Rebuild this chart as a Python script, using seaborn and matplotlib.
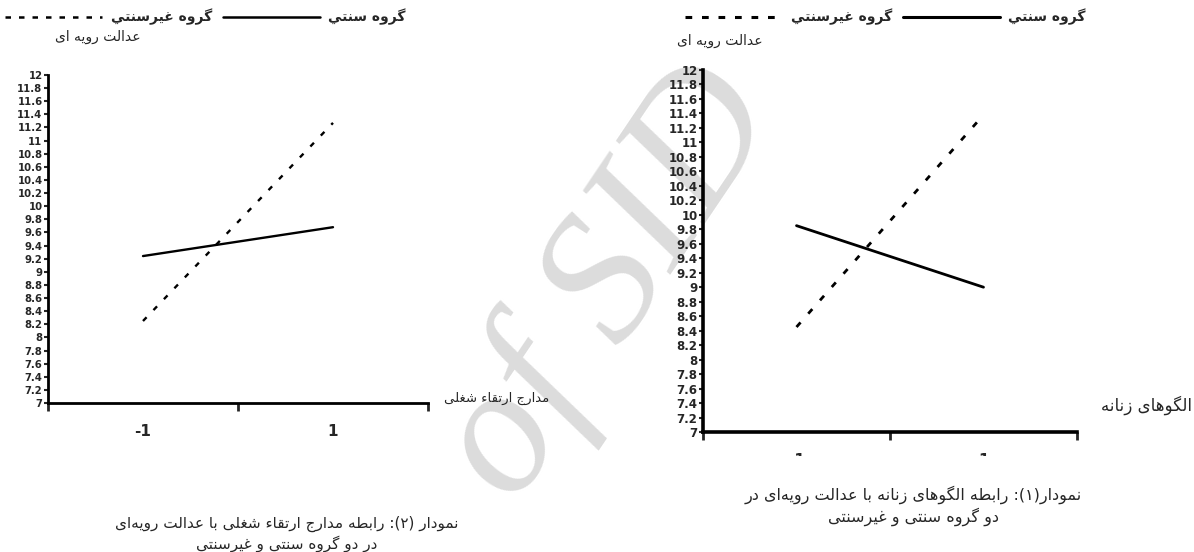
import matplotlib
matplotlib.use("Agg")
import pandas as pd
import matplotlib.pyplot as plt
import seaborn as sns
from matplotlib.lines import Line2D
from matplotlib.transforms import Bbox, TransformedBbox

# data
x_labels = ['-1', '1']
groups = ['گروه سنتي', 'گروه غيرسنتي']  # traditional, non-traditional

# left panel: chart (2), career advancement levels
career_trad = [9.24, 9.68]
career_nontrad = [8.25, 11.27]

# right panel: chart (1), feminine patterns
female_trad = [9.85, 9.00]
female_nontrad = [8.45, 11.38]

y_ticks = [7, 7.2, 7.4, 7.6, 7.8, 8, 8.2, 8.4, 8.6, 8.8, 9, 9.2, 9.4, 9.6, 9.8,
           10, 10.2, 10.4, 10.6, 10.8, 11, 11.2, 11.4, 11.6, 11.8, 12]

y_title = 'عدالت رویه ای'
left_xlabel = 'مدارج ارتقاء شغلی'
right_xlabel = 'الگوهای زنانه'
left_caption = ['نمودار (۲): رابطه مدارج ارتقاء شغلی با عدالت رویه‌ای',
                'در دو گروه سنتی و غیرسنتی']
right_caption = ['نمودار(۱): رابطه الگوهای زنانه با عدالت رویه‌ای در',
                 'دو گروه سنتی و غیرسنتی']
watermark = 'of SID'

# minimal arabic shaping (matplotlib has no text shaping / bidi)
# isolated, final, initial, medial
FORMS = {
    '\u0621': ('\uFE80', None, None, None),
    '\u0627': ('\uFE8D', '\uFE8E', None, None),
    '\u0628': ('\uFE8F', '\uFE90', '\uFE91', '\uFE92'),
    '\u062A': ('\uFE95', '\uFE96', '\uFE97', '\uFE98'),
    '\u062C': ('\uFE9D', '\uFE9E', '\uFE9F', '\uFEA0'),
    '\u062F': ('\uFEA9', '\uFEAA', None, None),
    '\u0631': ('\uFEAD', '\uFEAE', None, None),
    '\u0632': ('\uFEAF', '\uFEB0', None, None),
    '\u0633': ('\uFEB1', '\uFEB2', '\uFEB3', '\uFEB4'),
    '\u0634': ('\uFEB5', '\uFEB6', '\uFEB7', '\uFEB8'),
    '\u0637': ('\uFEC1', '\uFEC2', '\uFEC3', '\uFEC4'),
    '\u0639': ('\uFEC9', '\uFECA', '\uFECB', '\uFECC'),
    '\u063A': ('\uFECD', '\uFECE', '\uFECF', '\uFED0'),
    '\u0642': ('\uFED5', '\uFED6', '\uFED7', '\uFED8'),
    '\u0644': ('\uFEDD', '\uFEDE', '\uFEDF', '\uFEE0'),
    '\u0645': ('\uFEE1', '\uFEE2', '\uFEE3', '\uFEE4'),
    '\u0646': ('\uFEE5', '\uFEE6', '\uFEE7', '\uFEE8'),
    '\u0647': ('\uFEE9', '\uFEEA', '\uFEEB', '\uFEEC'),
    '\u0648': ('\uFEED', '\uFEEE', None, None),
    '\u064A': ('\uFEF1', '\uFEF2', '\uFEF3', '\uFEF4'),
    '\u06AF': ('\uFB92', '\uFB93', '\uFB94', '\uFB95'),
    '\u06CC': ('\uFBFC', '\uFBFD', '\uFBFE', '\uFBFF'),
}
MIRROR = {'(': ')', ')': '('}


def fa(text):
    out = []
    for i, ch in enumerate(text):
        if ch == '\u200c':
            continue
        if ch not in FORMS:
            out.append(MIRROR.get(ch, ch))
            continue
        iso, fin, ini, med = FORMS[ch]
        prev = text[i - 1] if i > 0 else ''
        nxt = text[i + 1] if i + 1 < len(text) else ''
        jp = fin is not None and prev in FORMS and FORMS[prev][2] is not None
        jn = ini is not None and nxt in FORMS and FORMS[nxt][1] is not None
        if jp and jn:
            out.append(med)
        elif jp:
            out.append(fin)
        elif jn:
            out.append(ini)
        else:
            out.append(iso)
    return ''.join(reversed(out))


sns.set_style('ticks')
plt.rcParams['font.family'] = ['DejaVu Sans']

fig = plt.figure(figsize=(11.94, 5.52), dpi=100)
W, H = 1194, 552


def px_axes(x0, x1, ytop, ybot):
    ax = fig.add_axes([x0 / W, 1 - ybot / H, (x1 - x0) / W, (ybot - ytop) / H])
    ax.set_facecolor('none')
    return ax


def draw_panel(ax, trad, nontrad, lw, spine_w, tick_fs):
    df = pd.DataFrame({
        'pos': list(range(len(x_labels))) * 2,
        'value': trad + nontrad,
        'group': [groups[0]] * len(trad) + [groups[1]] * len(nontrad),
    })
    sns.lineplot(data=df, x='pos', y='value', style='group', style_order=groups,
                 dashes={groups[0]: '', groups[1]: (2.2, 4.2)}, color='black',
                 lw=lw, legend=False, ax=ax)
    ax.set_xlim(-0.5, len(x_labels) - 0.5)
    ax.set_ylim(7, 12)
    ax.set_xticks([i - 0.5 for i in range(len(x_labels) + 1)])
    ax.set_xticklabels([])
    ax.set_xticks(range(len(x_labels)), minor=True)
    ax.set_xticklabels(x_labels, minor=True, fontweight='bold', fontsize=11)
    ax.tick_params(axis='x', which='major', length=6, width=2, direction='out')
    ax.tick_params(axis='x', which='minor', length=0, pad=15)
    ax.set_yticks(y_ticks)
    ax.set_yticklabels([f'{v:g}' for v in y_ticks], fontweight='bold', fontsize=tick_fs)
    ax.tick_params(axis='y', length=3, width=1.5, direction='out', pad=1)
    for s in ['top', 'right']:
        ax.spines[s].set_visible(False)
    for s in ['left', 'bottom']:
        ax.spines[s].set_linewidth(spine_w)
        ax.spines[s].set_color('black')
    ax.set_xlabel('')
    ax.set_ylabel('')


def add_legend(ax, x0, lw):
    handles = [Line2D([], [], color='black', lw=lw, dashes=(2.2, 3.2)),
               Line2D([], [], color='black', lw=lw)]
    labels = [fa(groups[1]), fa(groups[0])]
    ax.legend(handles, labels, ncol=2, loc='center left',
              bbox_to_anchor=(x0 / W, 1 - 17 / H), bbox_transform=fig.transFigure,
              frameon=False, borderpad=0, borderaxespad=0,
              handlelength=7, handletextpad=0.6, columnspacing=0.8,
              prop={'weight': 'bold', 'size': 10})


# light grey scan watermark behind everything
fig.text(610 / W, 1 - 285 / H, watermark, rotation=56, ha='center', va='center',
         fontsize=132, color='#dcdcdc', family='Liberation Serif',
         style='italic', zorder=-5)

# left panel: chart (2)
ax1 = px_axes(48, 428, 75, 403)
draw_panel(ax1, career_trad, career_nontrad, lw=1.7, spine_w=2.0, tick_fs=7.3)
ax1.set_ylabel(fa(y_title), rotation=0, fontsize=10, ha='center', va='center')
ax1.yaxis.set_label_coords(0.13, 1.115)
ax1.set_xlabel(fa(left_xlabel), fontsize=9.5, ha='center', va='center')
ax1.xaxis.set_label_coords(1.18, 0.015)
add_legend(ax1, 5, 1.8)

# right panel: chart (1)
ax2 = px_axes(703, 1077, 70, 432)
draw_panel(ax2, female_trad, female_nontrad, lw=2.0, spine_w=2.6, tick_fs=8.5)
ax2.set_ylabel(fa(y_title), rotation=0, fontsize=10, ha='center', va='center')
ax2.yaxis.set_label_coords(0.045, 1.08)
ax2.set_xlabel(fa(right_xlabel), fontsize=12, ha='center', va='center')
ax2.xaxis.set_label_coords(1.185, 0.075)
add_legend(ax2, 685, 2.2)

# the right panel's category labels are cut off in the source scan
clip = TransformedBbox(Bbox.from_extents(0, 1 - 456 / H, 1, 1), fig.transFigure)
for lbl in ax2.get_xticklabels(minor=True):
    lbl.set_clip_on(True)
    lbl.set_clip_box(clip)

fig.text(287 / W, 1 - 534 / H, '\n'.join(fa(t) for t in left_caption),
         ha='center', va='center', fontsize=11, linespacing=1.25)
fig.text(913 / W, 1 - 506 / H, '\n'.join(fa(t) for t in right_caption),
         ha='center', va='center', fontsize=11.5, linespacing=1.25)

fig.savefig('out.png', dpi=100)
